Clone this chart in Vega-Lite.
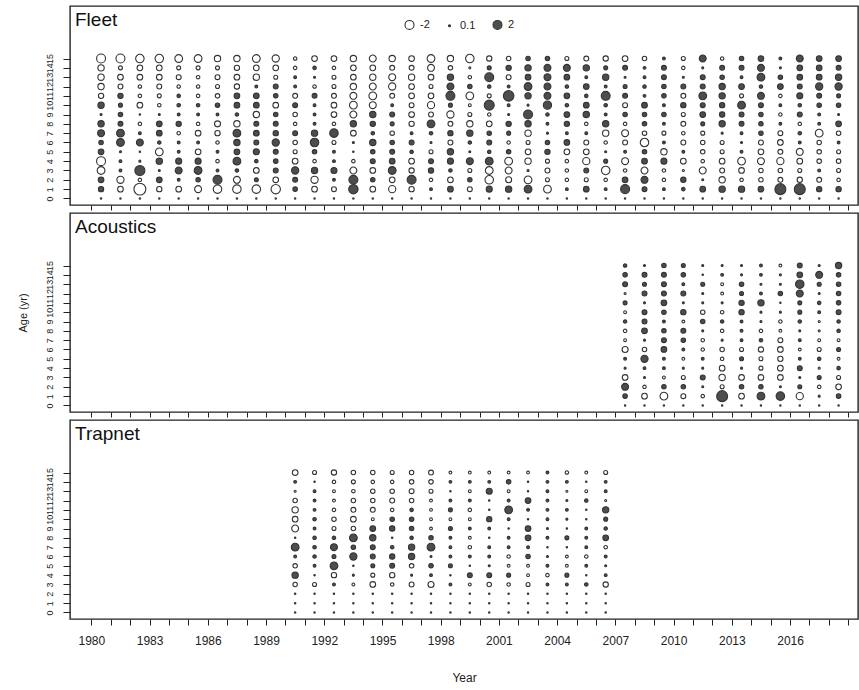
{
"$schema":"https://vega.github.io/schema/vega-lite/v6.json",
"padding":{"left":16,"top":5,"right":3,"bottom":5},
"background":"white",
"bounds":"flush",
"spacing":8,
"resolve":{"scale":{"size":"independent","fill":"independent"}},
"config":{
"view":{"stroke":"#222","strokeWidth":1.4},
"font":"Liberation Sans",
"axis":{"grid":false,"domain":false,"tickColor":"#222","tickWidth":1,"labelColor":"#222","titleColor":"#222","labelFont":"Liberation Sans","titleFont":"Liberation Sans","titleFontWeight":"normal","labelOverlap":false,"labelFlush":false},
"title":{"font":"Liberation Sans","fontWeight":"normal","fontSize":19,"anchor":"start","frame":"group","offset":-24,"baseline":"alphabetic","dx":5,"color":"#111"}
},
"datasets":{
"fleet":[
{"y":1980,"a":15,"r":-2},{"y":1980,"a":14,"r":-1},{"y":1980,"a":13,"r":-1},{"y":1980,"a":12,"r":-1},{"y":1980,"a":11,"r":-0.7},{"y":1980,"a":10,"r":1},{"y":1980,"a":9,"r":0.1},{"y":1980,"a":8,"r":1},{"y":1980,"a":7,"r":1.2},{"y":1980,"a":6,"r":0.5},{"y":1980,"a":5,"r":0.8},{"y":1980,"a":4,"r":-2},{"y":1980,"a":3,"r":-1.5},{"y":1980,"a":2,"r":0.8},{"y":1980,"a":1,"r":0.7},{"y":1980,"a":0,"r":-0.05},
{"y":1981,"a":15,"r":-2},{"y":1981,"a":14,"r":-0.4},{"y":1981,"a":13,"r":-0.8},{"y":1981,"a":12,"r":-0.6},{"y":1981,"a":11,"r":0.7},{"y":1981,"a":10,"r":0.4},{"y":1981,"a":9,"r":0.5},{"y":1981,"a":8,"r":0.6},{"y":1981,"a":7,"r":1.5},{"y":1981,"a":6,"r":1.5},{"y":1981,"a":5,"r":0.1},{"y":1981,"a":4,"r":0.2},{"y":1981,"a":3,"r":0.2},{"y":1981,"a":2,"r":-1.3},{"y":1981,"a":1,"r":-0.8},{"y":1981,"a":0,"r":-0.05},
{"y":1982,"a":15,"r":-1.8},{"y":1982,"a":14,"r":-0.8},{"y":1982,"a":13,"r":-0.8},{"y":1982,"a":12,"r":-0.3},{"y":1982,"a":11,"r":-0.3},{"y":1982,"a":10,"r":-0.8},{"y":1982,"a":9,"r":0.05},{"y":1982,"a":8,"r":-0.3},{"y":1982,"a":7,"r":0.2},{"y":1982,"a":6,"r":1.2},{"y":1982,"a":5,"r":0.05},{"y":1982,"a":4,"r":0.1},{"y":1982,"a":3,"r":2.5},{"y":1982,"a":2,"r":-0.3},{"y":1982,"a":1,"r":-3.5},{"y":1982,"a":0,"r":-0.05},
{"y":1983,"a":15,"r":-1.8},{"y":1983,"a":14,"r":-0.8},{"y":1983,"a":13,"r":-0.8},{"y":1983,"a":12,"r":-0.6},{"y":1983,"a":11,"r":-0.4},{"y":1983,"a":10,"r":-0.3},{"y":1983,"a":9,"r":0.1},{"y":1983,"a":8,"r":0.8},{"y":1983,"a":7,"r":0.8},{"y":1983,"a":6,"r":0.3},{"y":1983,"a":5,"r":-1.5},{"y":1983,"a":4,"r":1},{"y":1983,"a":3,"r":0.1},{"y":1983,"a":2,"r":0.8},{"y":1983,"a":1,"r":-0.7},{"y":1983,"a":0,"r":-0.05},
{"y":1984,"a":15,"r":-1.5},{"y":1984,"a":14,"r":-0.4},{"y":1984,"a":13,"r":-0.6},{"y":1984,"a":12,"r":-0.3},{"y":1984,"a":11,"r":0.3},{"y":1984,"a":10,"r":0.3},{"y":1984,"a":9,"r":0.2},{"y":1984,"a":8,"r":0.7},{"y":1984,"a":7,"r":-0.3},{"y":1984,"a":6,"r":0.2},{"y":1984,"a":5,"r":0.2},{"y":1984,"a":4,"r":0.9},{"y":1984,"a":3,"r":1.2},{"y":1984,"a":2,"r":0.2},{"y":1984,"a":1,"r":-0.8},{"y":1984,"a":0,"r":-0.05},
{"y":1985,"a":15,"r":-1.5},{"y":1985,"a":14,"r":-0.4},{"y":1985,"a":13,"r":-0.3},{"y":1985,"a":12,"r":-0.3},{"y":1985,"a":11,"r":-0.3},{"y":1985,"a":10,"r":0.3},{"y":1985,"a":9,"r":0.2},{"y":1985,"a":8,"r":-0.3},{"y":1985,"a":7,"r":-0.8},{"y":1985,"a":6,"r":0.2},{"y":1985,"a":5,"r":-0.8},{"y":1985,"a":4,"r":0.9},{"y":1985,"a":3,"r":1.5},{"y":1985,"a":2,"r":0.5},{"y":1985,"a":1,"r":-1.2},{"y":1985,"a":0,"r":-0.05},
{"y":1986,"a":15,"r":-1},{"y":1986,"a":14,"r":-0.4},{"y":1986,"a":13,"r":-0.6},{"y":1986,"a":12,"r":-0.4},{"y":1986,"a":11,"r":-0.5},{"y":1986,"a":10,"r":0.5},{"y":1986,"a":9,"r":0.2},{"y":1986,"a":8,"r":-0.9},{"y":1986,"a":7,"r":-0.7},{"y":1986,"a":6,"r":-0.3},{"y":1986,"a":5,"r":0.2},{"y":1986,"a":4,"r":-0.3},{"y":1986,"a":3,"r":0.2},{"y":1986,"a":2,"r":2},{"y":1986,"a":1,"r":-1.8},{"y":1986,"a":0,"r":-0.05},
{"y":1987,"a":15,"r":-1},{"y":1987,"a":14,"r":-0.7},{"y":1987,"a":13,"r":-0.8},{"y":1987,"a":12,"r":-0.7},{"y":1987,"a":11,"r":0.8},{"y":1987,"a":10,"r":0.8},{"y":1987,"a":9,"r":0.3},{"y":1987,"a":8,"r":-1},{"y":1987,"a":7,"r":1.5},{"y":1987,"a":6,"r":1},{"y":1987,"a":5,"r":0.8},{"y":1987,"a":4,"r":1.5},{"y":1987,"a":3,"r":0.3},{"y":1987,"a":2,"r":-1.2},{"y":1987,"a":1,"r":-1.8},{"y":1987,"a":0,"r":-0.05},
{"y":1988,"a":15,"r":-1.5},{"y":1988,"a":14,"r":-0.8},{"y":1988,"a":13,"r":-1},{"y":1988,"a":12,"r":0.2},{"y":1988,"a":11,"r":0.8},{"y":1988,"a":10,"r":0.8},{"y":1988,"a":9,"r":-1},{"y":1988,"a":8,"r":0.6},{"y":1988,"a":7,"r":0.8},{"y":1988,"a":6,"r":0.6},{"y":1988,"a":5,"r":0.9},{"y":1988,"a":4,"r":0.3},{"y":1988,"a":3,"r":-0.8},{"y":1988,"a":2,"r":0.4},{"y":1988,"a":1,"r":-1.8},{"y":1988,"a":0,"r":-0.05},
{"y":1989,"a":15,"r":-1.3},{"y":1989,"a":14,"r":-0.8},{"y":1989,"a":13,"r":-0.4},{"y":1989,"a":12,"r":0.6},{"y":1989,"a":11,"r":0.5},{"y":1989,"a":10,"r":-0.8},{"y":1989,"a":9,"r":0.5},{"y":1989,"a":8,"r":0.6},{"y":1989,"a":7,"r":0.7},{"y":1989,"a":6,"r":1.3},{"y":1989,"a":5,"r":0.6},{"y":1989,"a":4,"r":0.5},{"y":1989,"a":3,"r":0.6},{"y":1989,"a":2,"r":-0.8},{"y":1989,"a":1,"r":-2.2},{"y":1989,"a":0,"r":-0.05},
{"y":1990,"a":15,"r":-0.3},{"y":1990,"a":14,"r":-0.3},{"y":1990,"a":13,"r":0.2},{"y":1990,"a":12,"r":0.2},{"y":1990,"a":11,"r":-0.6},{"y":1990,"a":10,"r":0.6},{"y":1990,"a":9,"r":-0.5},{"y":1990,"a":8,"r":-0.3},{"y":1990,"a":7,"r":0.6},{"y":1990,"a":6,"r":-0.5},{"y":1990,"a":5,"r":-0.4},{"y":1990,"a":4,"r":-0.8},{"y":1990,"a":3,"r":1.3},{"y":1990,"a":2,"r":0.6},{"y":1990,"a":1,"r":0.5},{"y":1990,"a":0,"r":-0.05},
{"y":1991,"a":15,"r":-0.8},{"y":1991,"a":14,"r":0.3},{"y":1991,"a":13,"r":0.1},{"y":1991,"a":12,"r":-0.3},{"y":1991,"a":11,"r":0.6},{"y":1991,"a":10,"r":0.2},{"y":1991,"a":9,"r":0.2},{"y":1991,"a":8,"r":0.2},{"y":1991,"a":7,"r":1},{"y":1991,"a":6,"r":1.8},{"y":1991,"a":5,"r":0.5},{"y":1991,"a":4,"r":-0.3},{"y":1991,"a":3,"r":1},{"y":1991,"a":2,"r":-1.3},{"y":1991,"a":1,"r":-0.8},{"y":1991,"a":0,"r":-0.05},
{"y":1992,"a":15,"r":-0.8},{"y":1992,"a":14,"r":-0.3},{"y":1992,"a":13,"r":-0.4},{"y":1992,"a":12,"r":-0.4},{"y":1992,"a":11,"r":-0.6},{"y":1992,"a":10,"r":-0.8},{"y":1992,"a":9,"r":-0.8},{"y":1992,"a":8,"r":-0.3},{"y":1992,"a":7,"r":1.8},{"y":1992,"a":6,"r":-0.4},{"y":1992,"a":5,"r":0.2},{"y":1992,"a":4,"r":0.2},{"y":1992,"a":3,"r":0.9},{"y":1992,"a":2,"r":0.2},{"y":1992,"a":1,"r":-0.6},{"y":1992,"a":0,"r":-0.05},
{"y":1993,"a":15,"r":-1},{"y":1993,"a":14,"r":-0.8},{"y":1993,"a":13,"r":-0.8},{"y":1993,"a":12,"r":-1},{"y":1993,"a":11,"r":-1.2},{"y":1993,"a":10,"r":-1.5},{"y":1993,"a":9,"r":-1.2},{"y":1993,"a":8,"r":1},{"y":1993,"a":7,"r":-0.8},{"y":1993,"a":6,"r":0.1},{"y":1993,"a":5,"r":0.05},{"y":1993,"a":4,"r":-0.3},{"y":1993,"a":3,"r":-1.2},{"y":1993,"a":2,"r":2},{"y":1993,"a":1,"r":2.2},{"y":1993,"a":0,"r":-0.05},
{"y":1994,"a":15,"r":-1.2},{"y":1994,"a":14,"r":-0.8},{"y":1994,"a":13,"r":-1},{"y":1994,"a":12,"r":-1.2},{"y":1994,"a":11,"r":-1.5},{"y":1994,"a":10,"r":-1.2},{"y":1994,"a":9,"r":1},{"y":1994,"a":8,"r":0.7},{"y":1994,"a":7,"r":0.3},{"y":1994,"a":6,"r":1},{"y":1994,"a":5,"r":0.5},{"y":1994,"a":4,"r":0.6},{"y":1994,"a":3,"r":-0.8},{"y":1994,"a":2,"r":0.5},{"y":1994,"a":1,"r":-0.8},{"y":1994,"a":0,"r":-0.05},
{"y":1995,"a":15,"r":-1},{"y":1995,"a":14,"r":-0.6},{"y":1995,"a":13,"r":-1.2},{"y":1995,"a":12,"r":-1.3},{"y":1995,"a":11,"r":-0.6},{"y":1995,"a":10,"r":0.2},{"y":1995,"a":9,"r":0.6},{"y":1995,"a":8,"r":0.4},{"y":1995,"a":7,"r":-0.5},{"y":1995,"a":6,"r":0.5},{"y":1995,"a":5,"r":0.6},{"y":1995,"a":4,"r":0.8},{"y":1995,"a":3,"r":1.5},{"y":1995,"a":2,"r":-0.8},{"y":1995,"a":1,"r":-1.3},{"y":1995,"a":0,"r":-0.05},
{"y":1996,"a":15,"r":-0.8},{"y":1996,"a":14,"r":-0.6},{"y":1996,"a":13,"r":-1},{"y":1996,"a":12,"r":-0.8},{"y":1996,"a":11,"r":-0.8},{"y":1996,"a":10,"r":-0.6},{"y":1996,"a":9,"r":-0.8},{"y":1996,"a":8,"r":-0.7},{"y":1996,"a":7,"r":0.2},{"y":1996,"a":6,"r":0.6},{"y":1996,"a":5,"r":0.3},{"y":1996,"a":4,"r":-0.8},{"y":1996,"a":3,"r":-0.7},{"y":1996,"a":2,"r":2},{"y":1996,"a":1,"r":-0.7},{"y":1996,"a":0,"r":-0.05},
{"y":1997,"a":15,"r":-1.5},{"y":1997,"a":14,"r":-1.2},{"y":1997,"a":13,"r":-0.8},{"y":1997,"a":12,"r":-0.4},{"y":1997,"a":11,"r":-0.8},{"y":1997,"a":10,"r":-1.3},{"y":1997,"a":9,"r":-0.6},{"y":1997,"a":8,"r":1.5},{"y":1997,"a":7,"r":0.3},{"y":1997,"a":6,"r":0.1},{"y":1997,"a":5,"r":-0.4},{"y":1997,"a":4,"r":0.6},{"y":1997,"a":3,"r":0.7},{"y":1997,"a":2,"r":-0.3},{"y":1997,"a":1,"r":0.2},{"y":1997,"a":0,"r":-0.05},
{"y":1998,"a":15,"r":-1},{"y":1998,"a":14,"r":-0.5},{"y":1998,"a":13,"r":1},{"y":1998,"a":12,"r":1.2},{"y":1998,"a":11,"r":2},{"y":1998,"a":10,"r":0.4},{"y":1998,"a":9,"r":-1.3},{"y":1998,"a":8,"r":-0.6},{"y":1998,"a":7,"r":0.7},{"y":1998,"a":6,"r":-0.6},{"y":1998,"a":5,"r":1},{"y":1998,"a":4,"r":0.9},{"y":1998,"a":3,"r":0.3},{"y":1998,"a":2,"r":-0.8},{"y":1998,"a":1,"r":0.8},{"y":1998,"a":0,"r":-0.05},
{"y":1999,"a":15,"r":-1.8},{"y":1999,"a":14,"r":-0.1},{"y":1999,"a":13,"r":-0.3},{"y":1999,"a":12,"r":0.5},{"y":1999,"a":11,"r":-1.5},{"y":1999,"a":10,"r":-0.2},{"y":1999,"a":9,"r":-0.4},{"y":1999,"a":8,"r":-1},{"y":1999,"a":7,"r":1},{"y":1999,"a":6,"r":0.3},{"y":1999,"a":5,"r":0.1},{"y":1999,"a":4,"r":1.2},{"y":1999,"a":3,"r":-0.4},{"y":1999,"a":2,"r":0.5},{"y":1999,"a":1,"r":-0.6},{"y":1999,"a":0,"r":-0.05},
{"y":2000,"a":15,"r":-0.7},{"y":2000,"a":14,"r":0.4},{"y":2000,"a":13,"r":2},{"y":2000,"a":12,"r":0.3},{"y":2000,"a":11,"r":-0.4},{"y":2000,"a":10,"r":2.5},{"y":2000,"a":9,"r":-0.3},{"y":2000,"a":8,"r":-0.8},{"y":2000,"a":7,"r":0.5},{"y":2000,"a":6,"r":0.6},{"y":2000,"a":5,"r":0.3},{"y":2000,"a":4,"r":1.5},{"y":2000,"a":3,"r":-1.5},{"y":2000,"a":2,"r":-1.8},{"y":2000,"a":1,"r":0.9},{"y":2000,"a":0,"r":-0.05},
{"y":2001,"a":15,"r":-0.5},{"y":2001,"a":14,"r":0.7},{"y":2001,"a":13,"r":-0.6},{"y":2001,"a":12,"r":0.2},{"y":2001,"a":11,"r":2.8},{"y":2001,"a":10,"r":0.2},{"y":2001,"a":9,"r":0.1},{"y":2001,"a":8,"r":0.7},{"y":2001,"a":7,"r":0.4},{"y":2001,"a":6,"r":-0.3},{"y":2001,"a":5,"r":0.5},{"y":2001,"a":4,"r":-1.5},{"y":2001,"a":3,"r":-1.2},{"y":2001,"a":2,"r":-0.9},{"y":2001,"a":1,"r":1},{"y":2001,"a":0,"r":-0.05},
{"y":2002,"a":15,"r":0.5},{"y":2002,"a":14,"r":1},{"y":2002,"a":13,"r":0.8},{"y":2002,"a":12,"r":1.5},{"y":2002,"a":11,"r":1},{"y":2002,"a":10,"r":0.1},{"y":2002,"a":9,"r":2},{"y":2002,"a":8,"r":1},{"y":2002,"a":7,"r":-1},{"y":2002,"a":6,"r":-0.4},{"y":2002,"a":5,"r":-0.8},{"y":2002,"a":4,"r":-1},{"y":2002,"a":3,"r":0.1},{"y":2002,"a":2,"r":-1.5},{"y":2002,"a":1,"r":1.5},{"y":2002,"a":0,"r":-0.05},
{"y":2003,"a":15,"r":0.5},{"y":2003,"a":14,"r":1.2},{"y":2003,"a":13,"r":1.2},{"y":2003,"a":12,"r":1.2},{"y":2003,"a":11,"r":1.2},{"y":2003,"a":10,"r":1.7},{"y":2003,"a":9,"r":0.3},{"y":2003,"a":8,"r":0.2},{"y":2003,"a":7,"r":0.1},{"y":2003,"a":6,"r":0.5},{"y":2003,"a":5,"r":0.7},{"y":2003,"a":4,"r":-0.4},{"y":2003,"a":3,"r":-0.6},{"y":2003,"a":2,"r":-0.4},{"y":2003,"a":1,"r":-1.5},{"y":2003,"a":0,"r":-0.05},
{"y":2004,"a":15,"r":-0.4},{"y":2004,"a":14,"r":1.2},{"y":2004,"a":13,"r":0.8},{"y":2004,"a":12,"r":0.3},{"y":2004,"a":11,"r":0.8},{"y":2004,"a":10,"r":0.3},{"y":2004,"a":9,"r":0.8},{"y":2004,"a":8,"r":0.7},{"y":2004,"a":7,"r":0.2},{"y":2004,"a":6,"r":0.8},{"y":2004,"a":5,"r":-0.8},{"y":2004,"a":4,"r":-0.3},{"y":2004,"a":3,"r":-0.3},{"y":2004,"a":2,"r":-0.3},{"y":2004,"a":1,"r":0.2},{"y":2004,"a":0,"r":-0.05},
{"y":2005,"a":15,"r":-0.6},{"y":2005,"a":14,"r":1},{"y":2005,"a":13,"r":0.2},{"y":2005,"a":12,"r":0.8},{"y":2005,"a":11,"r":0.3},{"y":2005,"a":10,"r":0.8},{"y":2005,"a":9,"r":1},{"y":2005,"a":8,"r":-0.3},{"y":2005,"a":7,"r":0.2},{"y":2005,"a":6,"r":-0.6},{"y":2005,"a":5,"r":-0.8},{"y":2005,"a":4,"r":-1.3},{"y":2005,"a":3,"r":0.6},{"y":2005,"a":2,"r":-0.4},{"y":2005,"a":1,"r":0.8},{"y":2005,"a":0,"r":-0.05},
{"y":2006,"a":15,"r":-0.7},{"y":2006,"a":14,"r":0.4},{"y":2006,"a":13,"r":1},{"y":2006,"a":12,"r":0.2},{"y":2006,"a":11,"r":2},{"y":2006,"a":10,"r":0.3},{"y":2006,"a":9,"r":0.2},{"y":2006,"a":8,"r":1},{"y":2006,"a":7,"r":-1},{"y":2006,"a":6,"r":-0.3},{"y":2006,"a":5,"r":0.1},{"y":2006,"a":4,"r":0.4},{"y":2006,"a":3,"r":-1.8},{"y":2006,"a":2,"r":-0.3},{"y":2006,"a":1,"r":0.2},{"y":2006,"a":0,"r":-0.05},
{"y":2007,"a":15,"r":-0.8},{"y":2007,"a":14,"r":0.6},{"y":2007,"a":13,"r":0.1},{"y":2007,"a":12,"r":0.4},{"y":2007,"a":11,"r":0.6},{"y":2007,"a":10,"r":-0.6},{"y":2007,"a":9,"r":0.5},{"y":2007,"a":8,"r":-0.3},{"y":2007,"a":7,"r":-1.2},{"y":2007,"a":6,"r":-0.6},{"y":2007,"a":5,"r":0.2},{"y":2007,"a":4,"r":-1.2},{"y":2007,"a":3,"r":-0.3},{"y":2007,"a":2,"r":0.8},{"y":2007,"a":1,"r":2},{"y":2007,"a":0,"r":-0.05},
{"y":2008,"a":15,"r":-0.5},{"y":2008,"a":14,"r":0.2},{"y":2008,"a":13,"r":0.2},{"y":2008,"a":12,"r":0.3},{"y":2008,"a":11,"r":0.2},{"y":2008,"a":10,"r":0.8},{"y":2008,"a":9,"r":0.5},{"y":2008,"a":8,"r":0.5},{"y":2008,"a":7,"r":-0.5},{"y":2008,"a":6,"r":-1.8},{"y":2008,"a":5,"r":0.5},{"y":2008,"a":4,"r":0.8},{"y":2008,"a":3,"r":-1.2},{"y":2008,"a":2,"r":1.2},{"y":2008,"a":1,"r":0.6},{"y":2008,"a":0,"r":-0.05},
{"y":2009,"a":15,"r":0.2},{"y":2009,"a":14,"r":0.6},{"y":2009,"a":13,"r":0.6},{"y":2009,"a":12,"r":0.5},{"y":2009,"a":11,"r":0.5},{"y":2009,"a":10,"r":0.2},{"y":2009,"a":9,"r":0.5},{"y":2009,"a":8,"r":0.2},{"y":2009,"a":7,"r":-0.4},{"y":2009,"a":6,"r":0.2},{"y":2009,"a":5,"r":-1},{"y":2009,"a":4,"r":0.9},{"y":2009,"a":3,"r":-0.3},{"y":2009,"a":2,"r":-0.3},{"y":2009,"a":1,"r":0.2},{"y":2009,"a":0,"r":-0.05},
{"y":2010,"a":15,"r":-0.4},{"y":2010,"a":14,"r":-0.3},{"y":2010,"a":13,"r":0.1},{"y":2010,"a":12,"r":0.6},{"y":2010,"a":11,"r":-0.6},{"y":2010,"a":10,"r":0.7},{"y":2010,"a":9,"r":-0.4},{"y":2010,"a":8,"r":-0.6},{"y":2010,"a":7,"r":-0.3},{"y":2010,"a":6,"r":-0.6},{"y":2010,"a":5,"r":0.2},{"y":2010,"a":4,"r":-0.8},{"y":2010,"a":3,"r":-0.1},{"y":2010,"a":2,"r":0.7},{"y":2010,"a":1,"r":0.3},{"y":2010,"a":0,"r":-0.05},
{"y":2011,"a":15,"r":1.2},{"y":2011,"a":14,"r":0.1},{"y":2011,"a":13,"r":0.6},{"y":2011,"a":12,"r":0.6},{"y":2011,"a":11,"r":1.5},{"y":2011,"a":10,"r":0.6},{"y":2011,"a":9,"r":0.8},{"y":2011,"a":8,"r":0.4},{"y":2011,"a":7,"r":-0.4},{"y":2011,"a":6,"r":-0.5},{"y":2011,"a":5,"r":-0.5},{"y":2011,"a":4,"r":-0.3},{"y":2011,"a":3,"r":-1.2},{"y":2011,"a":2,"r":0.1},{"y":2011,"a":1,"r":0.8},{"y":2011,"a":0,"r":-0.05},
{"y":2012,"a":15,"r":-0.3},{"y":2012,"a":14,"r":0.6},{"y":2012,"a":13,"r":0.5},{"y":2012,"a":12,"r":1},{"y":2012,"a":11,"r":1},{"y":2012,"a":10,"r":0.7},{"y":2012,"a":9,"r":0.7},{"y":2012,"a":8,"r":1},{"y":2012,"a":7,"r":0.1},{"y":2012,"a":6,"r":-0.4},{"y":2012,"a":5,"r":-0.4},{"y":2012,"a":4,"r":-0.8},{"y":2012,"a":3,"r":-0.6},{"y":2012,"a":2,"r":-1},{"y":2012,"a":1,"r":1},{"y":2012,"a":0,"r":-0.05},
{"y":2013,"a":15,"r":0.5},{"y":2013,"a":14,"r":0.6},{"y":2013,"a":13,"r":0.2},{"y":2013,"a":12,"r":0.8},{"y":2013,"a":11,"r":-0.4},{"y":2013,"a":10,"r":1.5},{"y":2013,"a":9,"r":0.6},{"y":2013,"a":8,"r":0.6},{"y":2013,"a":7,"r":0.2},{"y":2013,"a":6,"r":0.1},{"y":2013,"a":5,"r":0.2},{"y":2013,"a":4,"r":-1.5},{"y":2013,"a":3,"r":-0.8},{"y":2013,"a":2,"r":-0.3},{"y":2013,"a":1,"r":1},{"y":2013,"a":0,"r":-0.05},
{"y":2014,"a":15,"r":0.8},{"y":2014,"a":14,"r":1.2},{"y":2014,"a":13,"r":1.5},{"y":2014,"a":12,"r":0.3},{"y":2014,"a":11,"r":1.2},{"y":2014,"a":10,"r":0.6},{"y":2014,"a":9,"r":0.5},{"y":2014,"a":8,"r":0.5},{"y":2014,"a":7,"r":0.5},{"y":2014,"a":6,"r":-0.6},{"y":2014,"a":5,"r":-0.8},{"y":2014,"a":4,"r":-1.2},{"y":2014,"a":3,"r":-0.5},{"y":2014,"a":2,"r":-0.5},{"y":2014,"a":1,"r":0.8},{"y":2014,"a":0,"r":-0.05},
{"y":2015,"a":15,"r":0.2},{"y":2015,"a":14,"r":0.1},{"y":2015,"a":13,"r":0.5},{"y":2015,"a":12,"r":0.8},{"y":2015,"a":11,"r":-0.3},{"y":2015,"a":10,"r":0.2},{"y":2015,"a":9,"r":-0.3},{"y":2015,"a":8,"r":0.2},{"y":2015,"a":7,"r":-0.6},{"y":2015,"a":6,"r":-0.8},{"y":2015,"a":5,"r":-0.6},{"y":2015,"a":4,"r":-1.3},{"y":2015,"a":3,"r":-0.5},{"y":2015,"a":2,"r":-0.6},{"y":2015,"a":1,"r":3},{"y":2015,"a":0,"r":-0.05},
{"y":2016,"a":15,"r":1.2},{"y":2016,"a":14,"r":0.8},{"y":2016,"a":13,"r":0.8},{"y":2016,"a":12,"r":0.6},{"y":2016,"a":11,"r":0.9},{"y":2016,"a":10,"r":0.3},{"y":2016,"a":9,"r":0.6},{"y":2016,"a":8,"r":-0.3},{"y":2016,"a":7,"r":0.3},{"y":2016,"a":6,"r":0.2},{"y":2016,"a":5,"r":-1.2},{"y":2016,"a":4,"r":-0.8},{"y":2016,"a":3,"r":-0.4},{"y":2016,"a":2,"r":-0.7},{"y":2016,"a":1,"r":3},{"y":2016,"a":0,"r":-0.05},
{"y":2017,"a":15,"r":0.8},{"y":2017,"a":14,"r":0.8},{"y":2017,"a":13,"r":0.8},{"y":2017,"a":12,"r":1.3},{"y":2017,"a":11,"r":0.6},{"y":2017,"a":10,"r":0.5},{"y":2017,"a":9,"r":0.2},{"y":2017,"a":8,"r":0.2},{"y":2017,"a":7,"r":-1.5},{"y":2017,"a":6,"r":-0.5},{"y":2017,"a":5,"r":-0.5},{"y":2017,"a":4,"r":-0.5},{"y":2017,"a":3,"r":0.2},{"y":2017,"a":2,"r":-0.6},{"y":2017,"a":1,"r":0.7},{"y":2017,"a":0,"r":-0.05},
{"y":2018,"a":15,"r":0.8},{"y":2018,"a":14,"r":0.6},{"y":2018,"a":13,"r":1},{"y":2018,"a":12,"r":1.3},{"y":2018,"a":11,"r":0.4},{"y":2018,"a":10,"r":0.5},{"y":2018,"a":9,"r":0.1},{"y":2018,"a":8,"r":0.8},{"y":2018,"a":7,"r":-0.5},{"y":2018,"a":6,"r":0.2},{"y":2018,"a":5,"r":-0.4},{"y":2018,"a":4,"r":-0.5},{"y":2018,"a":3,"r":-0.4},{"y":2018,"a":2,"r":-0.3},{"y":2018,"a":1,"r":0.7},{"y":2018,"a":0,"r":-0.05}
],
"acoustics":[
{"y":2007,"a":15,"r":0.3},{"y":2007,"a":14,"r":0.5},{"y":2007,"a":13,"r":0.6},{"y":2007,"a":12,"r":-0.1},{"y":2007,"a":11,"r":0.4},{"y":2007,"a":10,"r":-0.2},{"y":2007,"a":9,"r":0.3},{"y":2007,"a":8,"r":-0.3},{"y":2007,"a":7,"r":-0.2},{"y":2007,"a":6,"r":-0.9},{"y":2007,"a":5,"r":0.2},{"y":2007,"a":4,"r":0.1},{"y":2007,"a":3,"r":-0.8},{"y":2007,"a":2,"r":1.2},{"y":2007,"a":1,"r":0.5},{"y":2007,"a":0,"r":-0.05},
{"y":2008,"a":15,"r":0.1},{"y":2008,"a":14,"r":0.6},{"y":2008,"a":13,"r":0.4},{"y":2008,"a":12,"r":0.6},{"y":2008,"a":11,"r":0.1},{"y":2008,"a":10,"r":0.6},{"y":2008,"a":9,"r":0.6},{"y":2008,"a":8,"r":0.8},{"y":2008,"a":7,"r":0.1},{"y":2008,"a":6,"r":-0.5},{"y":2008,"a":5,"r":1.3},{"y":2008,"a":4,"r":0.2},{"y":2008,"a":3,"r":0.1},{"y":2008,"a":2,"r":-0.3},{"y":2008,"a":1,"r":-0.8},{"y":2008,"a":0,"r":-0.05},
{"y":2009,"a":15,"r":0.5},{"y":2009,"a":14,"r":0.6},{"y":2009,"a":13,"r":0.6},{"y":2009,"a":12,"r":0.6},{"y":2009,"a":11,"r":0.8},{"y":2009,"a":10,"r":0.5},{"y":2009,"a":9,"r":0.2},{"y":2009,"a":8,"r":0.5},{"y":2009,"a":7,"r":0.6},{"y":2009,"a":6,"r":0.8},{"y":2009,"a":5,"r":0.2},{"y":2009,"a":4,"r":0.2},{"y":2009,"a":3,"r":-0.2},{"y":2009,"a":2,"r":0.5},{"y":2009,"a":1,"r":-1.5},{"y":2009,"a":0,"r":-0.05},
{"y":2010,"a":15,"r":0.4},{"y":2010,"a":14,"r":0.5},{"y":2010,"a":13,"r":0.2},{"y":2010,"a":12,"r":0.6},{"y":2010,"a":11,"r":0.1},{"y":2010,"a":10,"r":0.7},{"y":2010,"a":9,"r":-0.2},{"y":2010,"a":8,"r":0.6},{"y":2010,"a":7,"r":0.5},{"y":2010,"a":6,"r":0.2},{"y":2010,"a":5,"r":-0.2},{"y":2010,"a":4,"r":0.1},{"y":2010,"a":3,"r":-0.4},{"y":2010,"a":2,"r":0.5},{"y":2010,"a":1,"r":-0.6},{"y":2010,"a":0,"r":-0.05},
{"y":2011,"a":15,"r":0.1},{"y":2011,"a":14,"r":0.05},{"y":2011,"a":13,"r":0.4},{"y":2011,"a":12,"r":0.1},{"y":2011,"a":11,"r":0.1},{"y":2011,"a":10,"r":-0.5},{"y":2011,"a":9,"r":0.5},{"y":2011,"a":8,"r":0.1},{"y":2011,"a":7,"r":-0.3},{"y":2011,"a":6,"r":-0.3},{"y":2011,"a":5,"r":0.2},{"y":2011,"a":4,"r":0.1},{"y":2011,"a":3,"r":0.6},{"y":2011,"a":2,"r":0.1},{"y":2011,"a":1,"r":-0.3},{"y":2011,"a":0,"r":-0.05},
{"y":2012,"a":15,"r":0.1},{"y":2012,"a":14,"r":0.2},{"y":2012,"a":13,"r":-0.2},{"y":2012,"a":12,"r":-0.2},{"y":2012,"a":11,"r":0.1},{"y":2012,"a":10,"r":-0.3},{"y":2012,"a":9,"r":0.3},{"y":2012,"a":8,"r":-0.3},{"y":2012,"a":7,"r":0.1},{"y":2012,"a":6,"r":-0.5},{"y":2012,"a":5,"r":-0.3},{"y":2012,"a":4,"r":-0.8},{"y":2012,"a":3,"r":-1},{"y":2012,"a":2,"r":-0.4},{"y":2012,"a":1,"r":3},{"y":2012,"a":0,"r":-0.05},
{"y":2013,"a":15,"r":0.1},{"y":2013,"a":14,"r":0.1},{"y":2013,"a":13,"r":0.5},{"y":2013,"a":12,"r":0.4},{"y":2013,"a":11,"r":0.7},{"y":2013,"a":10,"r":0.7},{"y":2013,"a":9,"r":0.2},{"y":2013,"a":8,"r":0.2},{"y":2013,"a":7,"r":0.2},{"y":2013,"a":6,"r":-0.4},{"y":2013,"a":5,"r":0.4},{"y":2013,"a":4,"r":0.1},{"y":2013,"a":3,"r":-0.8},{"y":2013,"a":2,"r":0.5},{"y":2013,"a":1,"r":-0.8},{"y":2013,"a":0,"r":-0.05},
{"y":2014,"a":15,"r":0.2},{"y":2014,"a":14,"r":0.2},{"y":2014,"a":13,"r":0.1},{"y":2014,"a":12,"r":0.2},{"y":2014,"a":11,"r":1},{"y":2014,"a":10,"r":0.1},{"y":2014,"a":9,"r":0.1},{"y":2014,"a":8,"r":-0.3},{"y":2014,"a":7,"r":0.3},{"y":2014,"a":6,"r":-0.7},{"y":2014,"a":5,"r":-0.4},{"y":2014,"a":4,"r":-0.4},{"y":2014,"a":3,"r":-0.8},{"y":2014,"a":2,"r":0.5},{"y":2014,"a":1,"r":1.5},{"y":2014,"a":0,"r":-0.05},
{"y":2015,"a":15,"r":-0.2},{"y":2015,"a":14,"r":0.1},{"y":2015,"a":13,"r":0.1},{"y":2015,"a":12,"r":0.5},{"y":2015,"a":11,"r":-0.05},{"y":2015,"a":10,"r":0.1},{"y":2015,"a":9,"r":-0.3},{"y":2015,"a":8,"r":-0.2},{"y":2015,"a":7,"r":-0.6},{"y":2015,"a":6,"r":-0.8},{"y":2015,"a":5,"r":-0.7},{"y":2015,"a":4,"r":-0.8},{"y":2015,"a":3,"r":-0.8},{"y":2015,"a":2,"r":0.1},{"y":2015,"a":1,"r":1.8},{"y":2015,"a":0,"r":-0.05},
{"y":2016,"a":15,"r":0.6},{"y":2016,"a":14,"r":0.8},{"y":2016,"a":13,"r":1.8},{"y":2016,"a":12,"r":1.2},{"y":2016,"a":11,"r":0.4},{"y":2016,"a":10,"r":0.4},{"y":2016,"a":9,"r":0.3},{"y":2016,"a":8,"r":0.1},{"y":2016,"a":7,"r":0.2},{"y":2016,"a":6,"r":-0.2},{"y":2016,"a":5,"r":0.2},{"y":2016,"a":4,"r":0.6},{"y":2016,"a":3,"r":0.1},{"y":2016,"a":2,"r":0.4},{"y":2016,"a":1,"r":-1.3},{"y":2016,"a":0,"r":-0.05},
{"y":2017,"a":15,"r":0.1},{"y":2017,"a":14,"r":1.2},{"y":2017,"a":13,"r":0.4},{"y":2017,"a":12,"r":0.1},{"y":2017,"a":11,"r":0.3},{"y":2017,"a":10,"r":0.2},{"y":2017,"a":9,"r":-0.1},{"y":2017,"a":8,"r":-0.1},{"y":2017,"a":7,"r":-0.2},{"y":2017,"a":6,"r":-0.4},{"y":2017,"a":5,"r":0.3},{"y":2017,"a":4,"r":-0.1},{"y":2017,"a":3,"r":0.4},{"y":2017,"a":2,"r":-0.3},{"y":2017,"a":1,"r":0.1},{"y":2017,"a":0,"r":-0.05},
{"y":2018,"a":15,"r":1},{"y":2018,"a":14,"r":0.5},{"y":2018,"a":13,"r":0.5},{"y":2018,"a":12,"r":0.5},{"y":2018,"a":11,"r":0.5},{"y":2018,"a":10,"r":0.6},{"y":2018,"a":9,"r":0.3},{"y":2018,"a":8,"r":0.3},{"y":2018,"a":7,"r":-0.2},{"y":2018,"a":6,"r":0.4},{"y":2018,"a":5,"r":-0.2},{"y":2018,"a":4,"r":0.3},{"y":2018,"a":3,"r":-0.4},{"y":2018,"a":2,"r":-0.8},{"y":2018,"a":1,"r":0.5},{"y":2018,"a":0,"r":-0.05}
],
"trapnet":[
{"y":1990,"a":15,"r":-0.8},{"y":1990,"a":14,"r":0.2},{"y":1990,"a":13,"r":-0.1},{"y":1990,"a":12,"r":-0.5},{"y":1990,"a":11,"r":-1},{"y":1990,"a":10,"r":-0.8},{"y":1990,"a":9,"r":-1.2},{"y":1990,"a":8,"r":0.05},{"y":1990,"a":7,"r":1.5},{"y":1990,"a":6,"r":0.2},{"y":1990,"a":5,"r":-0.5},{"y":1990,"a":4,"r":1},{"y":1990,"a":3,"r":-0.5},{"y":1990,"a":2,"r":-0.05},{"y":1990,"a":1,"r":-0.05},{"y":1990,"a":0,"r":-0.05},
{"y":1991,"a":15,"r":-0.4},{"y":1991,"a":14,"r":0.05},{"y":1991,"a":13,"r":0.2},{"y":1991,"a":12,"r":0.2},{"y":1991,"a":11,"r":0.2},{"y":1991,"a":10,"r":0.3},{"y":1991,"a":9,"r":0.2},{"y":1991,"a":8,"r":0.3},{"y":1991,"a":7,"r":0.3},{"y":1991,"a":6,"r":0.3},{"y":1991,"a":5,"r":0.2},{"y":1991,"a":4,"r":0.05},{"y":1991,"a":3,"r":-0.4},{"y":1991,"a":2,"r":-0.05},{"y":1991,"a":1,"r":-0.05},{"y":1991,"a":0,"r":-0.05},
{"y":1992,"a":15,"r":-0.7},{"y":1992,"a":14,"r":-0.3},{"y":1992,"a":13,"r":-0.2},{"y":1992,"a":12,"r":-0.2},{"y":1992,"a":11,"r":-0.3},{"y":1992,"a":10,"r":-0.5},{"y":1992,"a":9,"r":-0.4},{"y":1992,"a":8,"r":0.3},{"y":1992,"a":7,"r":1.2},{"y":1992,"a":6,"r":0.4},{"y":1992,"a":5,"r":1.5},{"y":1992,"a":4,"r":-0.7},{"y":1992,"a":3,"r":0.2},{"y":1992,"a":2,"r":-0.05},{"y":1992,"a":1,"r":-0.05},{"y":1992,"a":0,"r":-0.05},
{"y":1993,"a":15,"r":-0.5},{"y":1993,"a":14,"r":-0.4},{"y":1993,"a":13,"r":-0.3},{"y":1993,"a":12,"r":-0.5},{"y":1993,"a":11,"r":-0.6},{"y":1993,"a":10,"r":-0.8},{"y":1993,"a":9,"r":-0.5},{"y":1993,"a":8,"r":1.5},{"y":1993,"a":7,"r":0.5},{"y":1993,"a":6,"r":1.3},{"y":1993,"a":5,"r":0.05},{"y":1993,"a":4,"r":0.1},{"y":1993,"a":3,"r":-0.2},{"y":1993,"a":2,"r":-0.05},{"y":1993,"a":1,"r":-0.05},{"y":1993,"a":0,"r":-0.05},
{"y":1994,"a":15,"r":-0.5},{"y":1994,"a":14,"r":-0.3},{"y":1994,"a":13,"r":-0.5},{"y":1994,"a":12,"r":-0.5},{"y":1994,"a":11,"r":-0.6},{"y":1994,"a":10,"r":-0.2},{"y":1994,"a":9,"r":0.8},{"y":1994,"a":8,"r":1},{"y":1994,"a":7,"r":0.6},{"y":1994,"a":6,"r":0.6},{"y":1994,"a":5,"r":0.4},{"y":1994,"a":4,"r":-0.4},{"y":1994,"a":3,"r":-0.8},{"y":1994,"a":2,"r":-0.05},{"y":1994,"a":1,"r":-0.05},{"y":1994,"a":0,"r":-0.05},
{"y":1995,"a":15,"r":-0.4},{"y":1995,"a":14,"r":-0.3},{"y":1995,"a":13,"r":-0.5},{"y":1995,"a":12,"r":-0.6},{"y":1995,"a":11,"r":-0.3},{"y":1995,"a":10,"r":0.5},{"y":1995,"a":9,"r":0.7},{"y":1995,"a":8,"r":0.05},{"y":1995,"a":7,"r":0.3},{"y":1995,"a":6,"r":0.7},{"y":1995,"a":5,"r":0.6},{"y":1995,"a":4,"r":-0.7},{"y":1995,"a":3,"r":-0.3},{"y":1995,"a":2,"r":-0.05},{"y":1995,"a":1,"r":-0.05},{"y":1995,"a":0,"r":-0.05},
{"y":1996,"a":15,"r":-0.5},{"y":1996,"a":14,"r":-0.5},{"y":1996,"a":13,"r":-0.6},{"y":1996,"a":12,"r":-0.5},{"y":1996,"a":11,"r":0.3},{"y":1996,"a":10,"r":0.5},{"y":1996,"a":9,"r":0.5},{"y":1996,"a":8,"r":0.3},{"y":1996,"a":7,"r":1},{"y":1996,"a":6,"r":1},{"y":1996,"a":5,"r":-0.5},{"y":1996,"a":4,"r":0.1},{"y":1996,"a":3,"r":-0.6},{"y":1996,"a":2,"r":-0.05},{"y":1996,"a":1,"r":-0.05},{"y":1996,"a":0,"r":-0.05},
{"y":1997,"a":15,"r":-0.6},{"y":1997,"a":14,"r":-0.5},{"y":1997,"a":13,"r":-0.4},{"y":1997,"a":12,"r":-0.2},{"y":1997,"a":11,"r":-0.2},{"y":1997,"a":10,"r":-0.2},{"y":1997,"a":9,"r":-0.2},{"y":1997,"a":8,"r":0.5},{"y":1997,"a":7,"r":1.5},{"y":1997,"a":6,"r":0.1},{"y":1997,"a":5,"r":0.5},{"y":1997,"a":4,"r":0.2},{"y":1997,"a":3,"r":-0.9},{"y":1997,"a":2,"r":-0.05},{"y":1997,"a":1,"r":-0.05},{"y":1997,"a":0,"r":-0.05},
{"y":1998,"a":15,"r":-0.2},{"y":1998,"a":14,"r":0.2},{"y":1998,"a":13,"r":0.05},{"y":1998,"a":12,"r":0.2},{"y":1998,"a":11,"r":0.4},{"y":1998,"a":10,"r":-0.2},{"y":1998,"a":9,"r":0.4},{"y":1998,"a":8,"r":0.2},{"y":1998,"a":7,"r":0.2},{"y":1998,"a":6,"r":0.2},{"y":1998,"a":5,"r":0.4},{"y":1998,"a":4,"r":0.05},{"y":1998,"a":3,"r":0.2},{"y":1998,"a":2,"r":-0.05},{"y":1998,"a":1,"r":-0.05},{"y":1998,"a":0,"r":-0.05},
{"y":1999,"a":15,"r":-0.2},{"y":1999,"a":14,"r":0.2},{"y":1999,"a":13,"r":-0.2},{"y":1999,"a":12,"r":0.2},{"y":1999,"a":11,"r":-0.3},{"y":1999,"a":10,"r":-0.2},{"y":1999,"a":9,"r":0.2},{"y":1999,"a":8,"r":-0.2},{"y":1999,"a":7,"r":-0.3},{"y":1999,"a":6,"r":0.2},{"y":1999,"a":5,"r":-0.05},{"y":1999,"a":4,"r":0.6},{"y":1999,"a":3,"r":-0.2},{"y":1999,"a":2,"r":-0.05},{"y":1999,"a":1,"r":-0.05},{"y":1999,"a":0,"r":-0.05},
{"y":2000,"a":15,"r":-0.2},{"y":2000,"a":14,"r":0.2},{"y":2000,"a":13,"r":0.9},{"y":2000,"a":12,"r":0.05},{"y":2000,"a":11,"r":-0.05},{"y":2000,"a":10,"r":0.7},{"y":2000,"a":9,"r":0.2},{"y":2000,"a":8,"r":0.05},{"y":2000,"a":7,"r":0.2},{"y":2000,"a":6,"r":0.2},{"y":2000,"a":5,"r":0.1},{"y":2000,"a":4,"r":0.6},{"y":2000,"a":3,"r":-0.5},{"y":2000,"a":2,"r":-0.05},{"y":2000,"a":1,"r":-0.05},{"y":2000,"a":0,"r":-0.05},
{"y":2001,"a":15,"r":-0.2},{"y":2001,"a":14,"r":0.5},{"y":2001,"a":13,"r":-0.2},{"y":2001,"a":12,"r":0.2},{"y":2001,"a":11,"r":1.5},{"y":2001,"a":10,"r":0.2},{"y":2001,"a":9,"r":0.05},{"y":2001,"a":8,"r":0.2},{"y":2001,"a":7,"r":0.2},{"y":2001,"a":6,"r":-0.3},{"y":2001,"a":5,"r":-0.2},{"y":2001,"a":4,"r":0.4},{"y":2001,"a":3,"r":-0.3},{"y":2001,"a":2,"r":-0.05},{"y":2001,"a":1,"r":-0.05},{"y":2001,"a":0,"r":-0.05},
{"y":2002,"a":15,"r":-0.2},{"y":2002,"a":14,"r":0.05},{"y":2002,"a":13,"r":0.05},{"y":2002,"a":12,"r":0.8},{"y":2002,"a":11,"r":0.2},{"y":2002,"a":10,"r":0.05},{"y":2002,"a":9,"r":0.8},{"y":2002,"a":8,"r":0.8},{"y":2002,"a":7,"r":0.2},{"y":2002,"a":6,"r":0.5},{"y":2002,"a":5,"r":-0.2},{"y":2002,"a":4,"r":-0.2},{"y":2002,"a":3,"r":-0.4},{"y":2002,"a":2,"r":-0.05},{"y":2002,"a":1,"r":-0.05},{"y":2002,"a":0,"r":-0.05},
{"y":2003,"a":15,"r":0.2},{"y":2003,"a":14,"r":0.2},{"y":2003,"a":13,"r":0.2},{"y":2003,"a":12,"r":0.2},{"y":2003,"a":11,"r":0.2},{"y":2003,"a":10,"r":0.2},{"y":2003,"a":9,"r":0.1},{"y":2003,"a":8,"r":0.2},{"y":2003,"a":7,"r":0.05},{"y":2003,"a":6,"r":0.1},{"y":2003,"a":5,"r":0.2},{"y":2003,"a":4,"r":-0.3},{"y":2003,"a":3,"r":0.2},{"y":2003,"a":2,"r":-0.05},{"y":2003,"a":1,"r":-0.05},{"y":2003,"a":0,"r":-0.05},
{"y":2004,"a":15,"r":-0.3},{"y":2004,"a":14,"r":0.2},{"y":2004,"a":13,"r":-0.1},{"y":2004,"a":12,"r":0.1},{"y":2004,"a":11,"r":0.2},{"y":2004,"a":10,"r":0.1},{"y":2004,"a":9,"r":0.05},{"y":2004,"a":8,"r":0.4},{"y":2004,"a":7,"r":-0.05},{"y":2004,"a":6,"r":-0.2},{"y":2004,"a":5,"r":-0.2},{"y":2004,"a":4,"r":0.4},{"y":2004,"a":3,"r":0.2},{"y":2004,"a":2,"r":-0.05},{"y":2004,"a":1,"r":-0.05},{"y":2004,"a":0,"r":-0.05},
{"y":2005,"a":15,"r":-0.2},{"y":2005,"a":14,"r":0.05},{"y":2005,"a":13,"r":-0.2},{"y":2005,"a":12,"r":0.3},{"y":2005,"a":11,"r":0.05},{"y":2005,"a":10,"r":0.05},{"y":2005,"a":9,"r":0.2},{"y":2005,"a":8,"r":0.2},{"y":2005,"a":7,"r":0.2},{"y":2005,"a":6,"r":-0.3},{"y":2005,"a":5,"r":0.2},{"y":2005,"a":4,"r":-0.05},{"y":2005,"a":3,"r":0.3},{"y":2005,"a":2,"r":-0.05},{"y":2005,"a":1,"r":-0.05},{"y":2005,"a":0,"r":-0.05},
{"y":2006,"a":15,"r":-0.4},{"y":2006,"a":14,"r":0.2},{"y":2006,"a":13,"r":0.2},{"y":2006,"a":12,"r":-0.1},{"y":2006,"a":11,"r":1},{"y":2006,"a":10,"r":0.4},{"y":2006,"a":9,"r":0.3},{"y":2006,"a":8,"r":0.8},{"y":2006,"a":7,"r":-0.3},{"y":2006,"a":6,"r":0.2},{"y":2006,"a":5,"r":0.1},{"y":2006,"a":4,"r":0.2},{"y":2006,"a":3,"r":-0.7},{"y":2006,"a":2,"r":-0.05},{"y":2006,"a":1,"r":-0.05},{"y":2006,"a":0,"r":-0.05}
]
},
"vconcat":[
{
"width":788,"height":199,
"title":{"text":"Fleet"},
"data":{"name":"fleet"},
"mark":{"type":"point","shape":"circle","filled":true,"stroke":"#333","strokeWidth":1.1,"opacity":1},
"encoding":{
"x":{"field":"y","type":"quantitative","scale":{"domain":[1978.4,2019],"nice":false,"zero":false},"axis":{"values":[1979.5,1980.5,1981.5,1982.5,1983.5,1984.5,1985.5,1986.5,1987.5,1988.5,1989.5,1990.5,1991.5,1992.5,1993.5,1994.5,1995.5,1996.5,1997.5,1998.5,1999.5,2000.5,2001.5,2002.5,2003.5,2004.5,2005.5,2006.5,2007.5,2008.5,2009.5,2010.5,2011.5,2012.5,2013.5,2014.5,2015.5,2016.5,2017.5,2018.5],"labels":false,"title":null,"tickSize":5}},
"y":{"field":"a","type":"quantitative","scale":{"domain":[-0.7,20.63],"nice":false,"zero":false},"axis":{"values":[0,1,2,3,4,5,6,7,8,9,10,11,12,13,14,15],"labelAngle":-90,"labelFontSize":9,"tickSize":7,"labelPadding":9,"minExtent":27,"maxExtent":27,"title":null}},
"size":{"field":"r","type":"quantitative","scale":{"domain":[-5,0,5],"range":[200,0,200]},"legend":{"values":[-2,0.1,2],"direction":"horizontal","orient":"none","legendX":334,"legendY":13,"title":null,"labelExpr":"'' + datum.value","labelFontSize":11,"labelColor":"#222","symbolStrokeColor":"#333","symbolStrokeWidth":1,"columnPadding":14,"labelOffset":5,"symbolType":"circle","symbolOpacity":1,"encode":{"symbols":{"update":{"stroke":{"value":"#333"},"strokeWidth":{"value":1.1},"opacity":{"value":1}}}}}},
"fill":{"field":"r","type":"quantitative","scale":{"type":"threshold","domain":[-5,0,5],"range":["white","white","#4d4d4d","#4d4d4d"]},"legend":{"values":[-2,0.1,2],"direction":"horizontal","orient":"none","legendX":334,"legendY":13,"title":null,"labelExpr":"'' + datum.value","labelFontSize":11,"labelColor":"#222","symbolStrokeColor":"#333","symbolStrokeWidth":1,"columnPadding":14,"labelOffset":5,"symbolType":"circle","symbolOpacity":1,"encode":{"symbols":{"update":{"stroke":{"value":"#333"},"strokeWidth":{"value":1.1},"opacity":{"value":1}}}}}}
}
},
{
"width":788,"height":199,
"title":{"text":"Acoustics"},
"data":{"name":"acoustics"},
"mark":{"type":"point","shape":"circle","filled":true,"stroke":"#333","strokeWidth":1.1,"opacity":1},
"encoding":{
"x":{"field":"y","type":"quantitative","scale":{"domain":[1978.4,2019],"nice":false,"zero":false},"axis":{"values":[1979.5,1980.5,1981.5,1982.5,1983.5,1984.5,1985.5,1986.5,1987.5,1988.5,1989.5,1990.5,1991.5,1992.5,1993.5,1994.5,1995.5,1996.5,1997.5,1998.5,1999.5,2000.5,2001.5,2002.5,2003.5,2004.5,2005.5,2006.5,2007.5,2008.5,2009.5,2010.5,2011.5,2012.5,2013.5,2014.5,2015.5,2016.5,2017.5,2018.5],"labels":false,"title":null,"tickSize":5}},
"y":{"field":"a","type":"quantitative","scale":{"domain":[-0.7,20.63],"nice":false,"zero":false},"axis":{"values":[0,1,2,3,4,5,6,7,8,9,10,11,12,13,14,15],"labelAngle":-90,"labelFontSize":9,"tickSize":7,"labelPadding":9,"minExtent":27,"maxExtent":27,"title":"Age (yr)","titleFontSize":11,"titlePadding":15}},
"size":{"field":"r","type":"quantitative","scale":{"domain":[-5,0,5],"range":[200,0,200]},"legend":null},
"fill":{"field":"r","type":"quantitative","scale":{"type":"threshold","domain":[-5,0,5],"range":["white","white","#4d4d4d","#4d4d4d"]},"legend":null}
}
},
{
"width":788,"height":199,
"title":{"text":"Trapnet"},
"data":{"name":"trapnet"},
"mark":{"type":"point","shape":"circle","filled":true,"stroke":"#333","strokeWidth":1.1,"opacity":1},
"encoding":{
"x":{"field":"y","type":"quantitative","scale":{"domain":[1978.4,2019],"nice":false,"zero":false},"axis":{"values":[1979.5,1980.5,1981.5,1982.5,1983.5,1984.5,1985.5,1986.5,1987.5,1988.5,1989.5,1990.5,1991.5,1992.5,1993.5,1994.5,1995.5,1996.5,1997.5,1998.5,1999.5,2000.5,2001.5,2002.5,2003.5,2004.5,2005.5,2006.5,2007.5,2008.5,2009.5,2010.5,2011.5,2012.5,2013.5,2014.5,2015.5,2016.5,2017.5,2018.5],"labelExpr":"(datum.value + 0.5) % 3 == 0 && datum.value < 2017 ? '' + (datum.value + 0.5) : ''","labelFontSize":12,"labelPadding":10,"tickSize":6,"title":"Year","titleFontSize":12,"titlePadding":26}},
"y":{"field":"a","type":"quantitative","scale":{"domain":[-0.7,20.63],"nice":false,"zero":false},"axis":{"values":[0,1,2,3,4,5,6,7,8,9,10,11,12,13,14,15],"labelAngle":-90,"labelFontSize":9,"tickSize":7,"labelPadding":9,"minExtent":27,"maxExtent":27,"title":null}},
"size":{"field":"r","type":"quantitative","scale":{"domain":[-5,0,5],"range":[200,0,200]},"legend":null},
"fill":{"field":"r","type":"quantitative","scale":{"type":"threshold","domain":[-5,0,5],"range":["white","white","#4d4d4d","#4d4d4d"]},"legend":null}
}
}
]
}
